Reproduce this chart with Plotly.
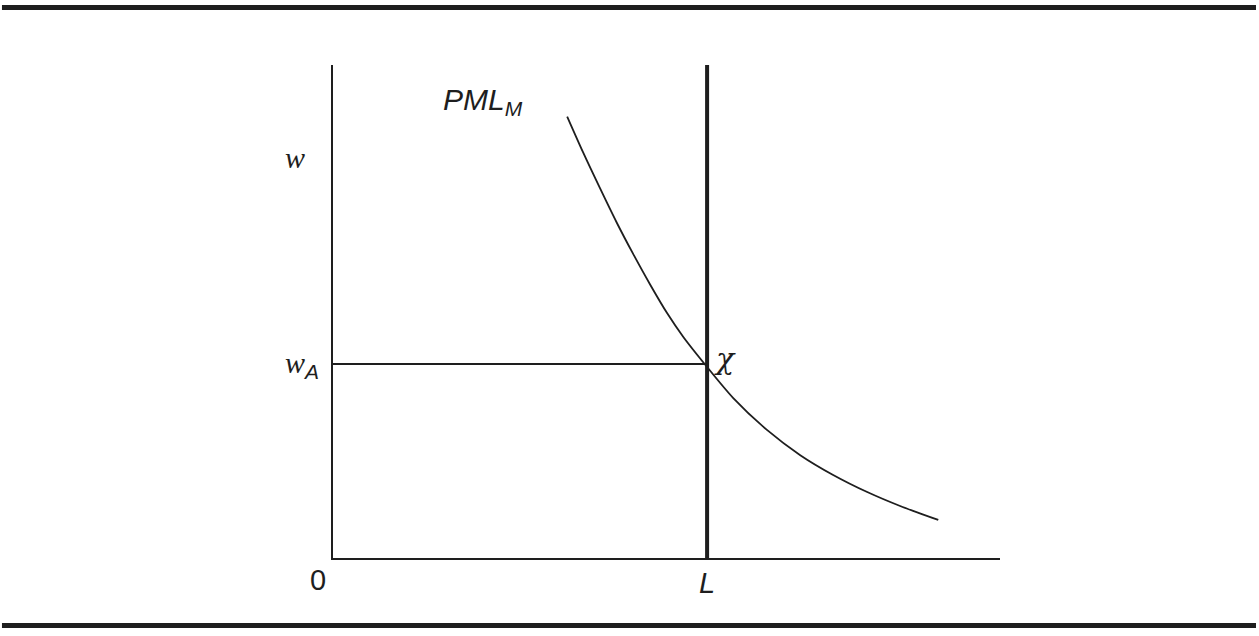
import plotly.graph_objects as go

# Labour (x) and wage (y) in chart units
labour_L = 10.0
wage_A = 5.0
x_max = 17.83
y_max = 12.7

# PML_M demand curve
pml_x = [6.26, 6.68, 7.14, 7.59, 8.02, 8.48, 8.93, 9.36, 10.0, 10.70, 11.60, 12.49, 13.37, 14.28, 15.16, 16.18]
pml_y = [11.37, 10.46, 9.52, 8.63, 7.84, 7.04, 6.31, 5.70, 4.92, 4.12, 3.30, 2.65, 2.14, 1.70, 1.34, 0.98]

ink = '#1e1e1e'
serif = 'Liberation Serif'
sans = 'Liberation Sans'

fig = go.Figure()

# Demand curve
fig.add_trace(go.Scatter(
    x=pml_x, y=pml_y, mode='lines',
    line=dict(color=ink, width=1.8, shape='spline', smoothing=0.8),
    showlegend=False, hoverinfo='skip'
))

# Horizontal line at w_A up to L
fig.add_trace(go.Scatter(
    x=[0, labour_L], y=[wage_A, wage_A], mode='lines',
    line=dict(color=ink, width=2),
    showlegend=False, hoverinfo='skip'
))

# Vertical supply line at L
fig.add_trace(go.Scatter(
    x=[labour_L, labour_L], y=[0, y_max], mode='lines',
    line=dict(color=ink, width=4),
    showlegend=False, hoverinfo='skip'
))

fig.update_layout(
    width=1259, height=636,
    margin=dict(l=333, r=259, t=65, b=78),
    plot_bgcolor='white', paper_bgcolor='white',
    xaxis=dict(range=[0, x_max], showline=True, linecolor=ink, linewidth=2,
               showgrid=False, zeroline=False, showticklabels=False, ticks=''),
    yaxis=dict(range=[0, y_max], showline=True, linecolor=ink, linewidth=2,
               showgrid=False, zeroline=False, showticklabels=False, ticks=''),
)

# Top and bottom rules of the figure box
for yy in [1.1166, -0.1369]:
    fig.add_shape(type='line', xref='paper', yref='paper',
                  x0=-0.4963, x1=1.3838, y0=yy, y1=yy,
                  line=dict(color=ink, width=5))

def label(text, x, y, family, size):
    fig.add_annotation(text=text, x=x, y=y, xref='paper', yref='paper',
                       showarrow=False, xanchor='center', yanchor='middle',
                       font=dict(family=family, size=size, color=ink))

label('<i>w</i>', -0.057, 0.813, serif, 30)
label('<i>w</i><sub><span style="font-family:Liberation Sans"><i>A</i></span></sub>', -0.0465, 0.392, serif, 30)
label('0', -0.0225, -0.0446, sans, 29)
label('<i>L</i>', 0.5607, -0.0507, sans, 29)
label('<i>χ</i>', 0.5877, 0.404, 'DejaVu Serif', 30)
label('<i>PML<sub>M</sub></i>', 0.2249, 0.925, sans, 30)

# drop the page's default body margin so the figure sits at the window corner
fig.write_html("out.html", config={'displayModeBar': False},
               post_script="document.body.style.margin='0';")
